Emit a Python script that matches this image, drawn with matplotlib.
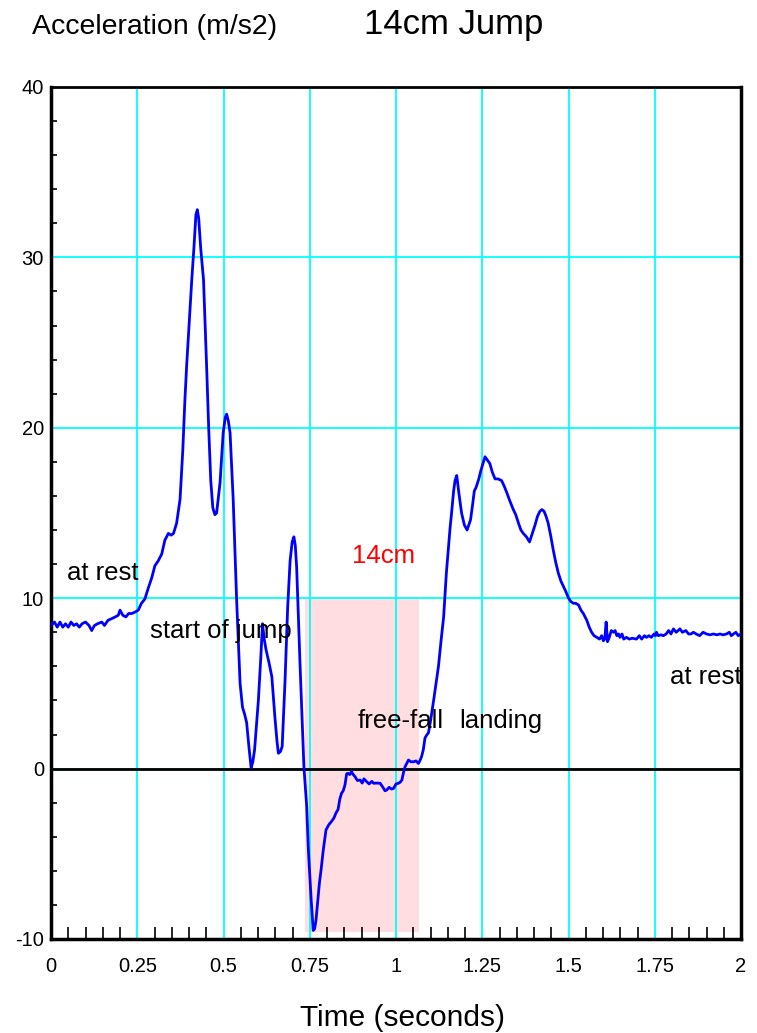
import matplotlib
matplotlib.use('Agg')
import matplotlib.pyplot as plt
from matplotlib.ticker import MultipleLocator

plt.rcParams['font.family'] = ['Liberation Sans', 'DejaVu Sans']
plt.rcParams['axes.unicode_minus'] = False

# acceleration trace (seconds, m/s2)
time_s = [
    0.000, 0.010, 0.018, 0.026, 0.034, 0.042, 0.050, 0.058, 0.066, 0.074,
    0.082, 0.090, 0.100, 0.110, 0.118, 0.126, 0.135, 0.147, 0.155, 0.165,
    0.176, 0.186, 0.195, 0.200, 0.208, 0.217, 0.225, 0.234, 0.245, 0.253,
    0.262, 0.272, 0.282, 0.292, 0.301, 0.311, 0.321, 0.330, 0.340, 0.348,
    0.355, 0.364, 0.374, 0.382, 0.388, 0.393, 0.400, 0.408, 0.414, 0.420,
    0.424, 0.428, 0.434, 0.442, 0.451, 0.457, 0.463, 0.469, 0.475, 0.480,
    0.490, 0.499, 0.505, 0.509, 0.514, 0.519, 0.528, 0.538, 0.548, 0.555,
    0.561, 0.567, 0.574, 0.580, 0.585, 0.590, 0.601, 0.608, 0.613, 0.618,
    0.623, 0.632, 0.640, 0.649, 0.655, 0.659, 0.665, 0.670, 0.678, 0.686,
    0.693, 0.699, 0.704, 0.708, 0.712, 0.722, 0.733, 0.741, 0.746, 0.754,
    0.760, 0.764, 0.768, 0.773, 0.778, 0.783, 0.789, 0.797, 0.805, 0.813,
    0.820, 0.826, 0.832, 0.837, 0.842, 0.847, 0.852, 0.857, 0.861, 0.866,
    0.871, 0.876, 0.881, 0.888, 0.896, 0.902, 0.907, 0.915, 0.922, 0.930,
    0.935, 0.945, 0.954, 0.962, 0.968, 0.973, 0.980, 0.987, 0.993, 1.000,
    1.007, 1.012, 1.017, 1.022, 1.026, 1.031, 1.036, 1.043, 1.051, 1.058,
    1.065, 1.070, 1.074, 1.079, 1.084, 1.090, 1.094, 1.100, 1.109, 1.116,
    1.123, 1.130, 1.138, 1.146, 1.152, 1.157, 1.161, 1.167, 1.171, 1.176,
    1.182, 1.190, 1.198, 1.206, 1.211, 1.216, 1.222, 1.227, 1.232, 1.240,
    1.246, 1.252, 1.258, 1.265, 1.272, 1.279, 1.287, 1.296, 1.306, 1.313,
    1.321, 1.330, 1.340, 1.347, 1.355, 1.362, 1.369, 1.378, 1.387, 1.395,
    1.403, 1.410, 1.417, 1.423, 1.429, 1.435, 1.441, 1.448, 1.456, 1.463,
    1.470, 1.478, 1.485, 1.492, 1.500, 1.507, 1.514, 1.521, 1.529, 1.536,
    1.543, 1.548, 1.553, 1.560, 1.567, 1.574, 1.582, 1.590, 1.596, 1.601,
    1.605, 1.609, 1.613, 1.618, 1.624, 1.630, 1.635, 1.640, 1.645, 1.649,
    1.655, 1.660, 1.668, 1.676, 1.685, 1.697, 1.705, 1.712, 1.720, 1.726,
    1.733, 1.740, 1.748, 1.752, 1.755, 1.760, 1.768, 1.775, 1.783, 1.790,
    1.797, 1.804, 1.812, 1.823, 1.830, 1.840, 1.848, 1.855, 1.862, 1.870,
    1.880, 1.890, 1.900, 1.910, 1.920, 1.930, 1.939, 1.948, 1.958, 1.966,
    1.972, 1.978, 1.985, 1.992, 2.000,
]
accel = [
    8.4, 8.6, 8.3, 8.6, 8.3, 8.5, 8.3, 8.6, 8.4, 8.5,
    8.3, 8.5, 8.6, 8.4, 8.1, 8.4, 8.5, 8.6, 8.4, 8.7,
    8.8, 8.9, 9.0, 9.3, 9.0, 8.9, 9.1, 9.1, 9.2, 9.3,
    9.7, 9.95, 10.6, 11.2, 11.9, 12.2, 12.6, 13.4, 13.8, 13.7,
    13.8, 14.4, 15.8, 18.7, 21.6, 23.6, 26.0, 28.7, 30.5, 32.5,
    32.8, 32.3, 30.5, 28.7, 23.6, 20.0, 16.9, 15.3, 14.9, 15.0,
    16.8, 19.7, 20.6, 20.8, 20.4, 19.7, 15.8, 9.9, 5.0, 3.6,
    3.2, 2.7, 1.2, 0.05, 0.4, 1.1, 4.0, 6.5, 8.5, 7.6,
    7.0, 6.2, 5.4, 3.0, 1.6, 0.9, 1.0, 1.3, 5.0, 9.5,
    12.2, 13.3, 13.6, 13.1, 11.8, 6.0, 0.1, -2.2, -4.8, -7.7,
    -9.5, -9.4, -8.9, -7.8, -6.7, -5.9, -4.8, -3.6, -3.3, -3.1,
    -2.9, -2.6, -2.4, -1.8, -1.45, -1.3, -0.96, -0.3, -0.28, -0.35,
    -0.18, -0.35, -0.47, -0.7, -0.67, -0.85, -0.6, -0.77, -0.9, -0.75,
    -0.86, -0.85, -0.86, -1.1, -1.3, -1.26, -1.1, -1.2, -1.16, -0.9,
    -0.86, -0.8, -0.67, -0.2, 0.1, 0.3, 0.5, 0.4, 0.4, 0.45,
    0.3, 0.5, 0.7, 1.1, 1.8, 2.0, 2.1, 2.8, 4.0, 5.0,
    6.0, 7.4, 8.9, 11.5, 13.0, 14.2, 15.0, 16.3, 16.9, 17.2,
    16.2, 15.0, 14.3, 14.0, 14.3, 14.6, 15.5, 16.3, 16.5, 17.0,
    17.5, 17.9, 18.3, 18.1, 17.9, 17.4, 17.0, 17.0, 16.9, 16.6,
    16.2, 15.7, 15.2, 14.9, 14.4, 14.0, 13.8, 13.6, 13.3, 13.8,
    14.3, 14.8, 15.1, 15.2, 15.1, 14.8, 14.4, 13.7, 12.8, 12.1,
    11.5, 11.0, 10.7, 10.4, 10.0, 9.8, 9.7, 9.7, 9.6, 9.3,
    9.1, 8.9, 8.7, 8.3, 8.0, 7.8, 7.7, 7.6, 7.8, 7.5,
    7.6, 8.6, 7.45, 7.7, 8.1, 8.0, 8.1, 7.8, 7.9, 7.7,
    7.9, 7.6, 7.7, 7.6, 7.65, 7.6, 7.8, 7.6, 7.8, 7.7,
    7.8, 7.7, 7.9, 7.8, 8.0, 7.8, 7.85, 7.8, 7.9, 8.1,
    7.9, 8.2, 8.0, 8.2, 8.0, 8.1, 7.9, 7.9, 8.0, 7.9,
    7.8, 8.0, 7.9, 7.85, 7.9, 7.85, 7.9, 7.85, 7.9, 8.0,
    7.8, 7.9, 8.0, 7.8, 7.9,
]

# shaded free-fall window
freefall_t = [0.736, 1.067]
freefall_low, freefall_high = -9.6, 10

fig = plt.figure(figsize=(7.57, 10.33), dpi=100)
ax = fig.add_axes([0.0674, 0.0910, 0.9115, 0.8248])

ax.fill_between(freefall_t, freefall_low, freefall_high, color='#ffdde1',
                linewidth=0, zorder=0.3)
ax.set_axisbelow(True)
ax.grid(True, color='#00ffff', linewidth=1.3)
ax.axhline(0, color='black', linewidth=2, zorder=2)
ax.plot(time_s, accel, color='#0000ff', linewidth=2, zorder=3)

ax.set_xlim(0, 2)
ax.set_ylim(-10, 40)
ax.xaxis.set_minor_locator(MultipleLocator(0.05))
ax.yaxis.set_major_locator(MultipleLocator(10))
ax.yaxis.set_minor_locator(MultipleLocator(2))
ax.set_xticks([0, 0.25, 0.5, 0.75, 1, 1.25, 1.5, 1.75, 2])
ax.set_xticklabels(['0', '0.25', '0.5', '0.75', '1', '1.25', '1.5', '1.75', '2'])
ax.tick_params(axis='x', which='major', length=0, pad=13, labelsize=14.5)
ax.tick_params(axis='x', which='minor', length=9, width=1.2, direction='in')
ax.tick_params(axis='y', which='major', length=0, pad=5, labelsize=14.5)
ax.tick_params(axis='y', which='minor', length=4, width=1.2, direction='in')
for side in ['left', 'bottom', 'right']:
    ax.spines[side].set_linewidth(2.5)
ax.spines['top'].set_linewidth(2)

ann = dict(fontsize=18.5, va='center', ha='left', zorder=4)
ax.text(0.046, 11.5, 'at rest', **ann)
ax.text(0.287, 8.1, 'start of jump', **ann)
ax.text(0.872, 12.5, '14cm', color='red', **ann)
ax.text(0.89, 2.8, 'free-fall', **ann)
ax.text(1.183, 2.8, 'landing', **ann)
ax.text(1.794, 5.4, 'at rest', clip_on=True, **ann)

fig.text(0.0423, 0.9739, 'Acceleration (m/s2)', fontsize=20.5, va='center', ha='left')
fig.text(0.481, 0.9758, '14cm Jump', fontsize=25, va='center', ha='left')
fig.text(0.532, 0.0145, 'Time (seconds)', fontsize=21.5, va='center', ha='center')

fig.savefig('out.png', dpi=100)
